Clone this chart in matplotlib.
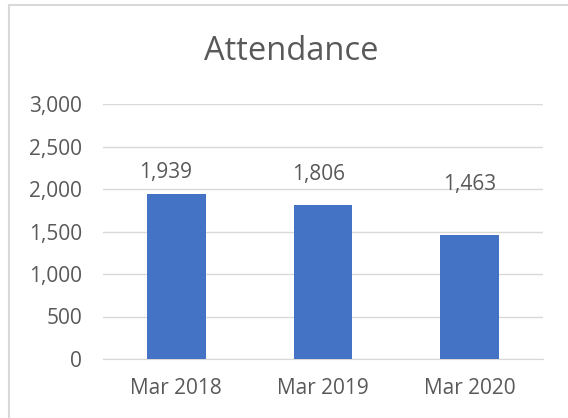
import matplotlib.pyplot as plt
from matplotlib.lines import Line2D

categories = ['Mar 2018', 'Mar 2019', 'Mar 2020']
attendance = [1939, 1806, 1463]
yticks = [0, 500, 1000, 1500, 2000, 2500, 3000]
# data label offsets (points) as they sit in the original chart
label_dx = [-8, -3, 0]
label_dy = [12, 18, 32]

plt.rcParams['font.family'] = ['Open Sans', 'DejaVu Sans']
txt = '#595959'
W, H = 568, 418

fig = plt.figure(figsize=(W / 100, H / 100), dpi=100)
# chart frame: only the top and left edges fall inside the picture
fig.lines.append(Line2D([9 / W, 9 / W], [0, 1 - 5 / H], transform=fig.transFigure,
                        color='#d9d9d9', linewidth=1.5))
fig.lines.append(Line2D([9 / W, 1], [1 - 5 / H, 1 - 5 / H], transform=fig.transFigure,
                        color='#d9d9d9', linewidth=1.5))

ax = fig.add_axes([103 / W, 59 / H, 440 / W, 255 / H])

x = range(len(categories))
ax.bar(x, attendance, width=0.4, color='#4472C4', zorder=3)
for xi, v, dx, dy in zip(x, attendance, label_dx, label_dy):
    ax.annotate(f'{v:,}', (xi, v), xytext=(dx, dy), textcoords='offset points',
                ha='center', va='baseline', fontsize=15, color=txt)

ax.set_xlim(-0.5, 2.5)
ax.set_ylim(0, 3000)
ax.set_yticks(yticks)
ax.set_yticklabels([f'{t:,}' for t in yticks])
ax.set_xticks(list(x))
ax.set_xticklabels(categories)
ax.tick_params(length=0, labelsize=15, labelcolor=txt)
ax.tick_params(axis='y', pad=15)
ax.tick_params(axis='x', pad=14)
ax.grid(axis='y', color='#d9d9d9', linewidth=1, zorder=0)
for s in ['top', 'right', 'left']:
    ax.spines[s].set_visible(False)
ax.spines['bottom'].set_color('#d9d9d9')

fig.text(291 / W, 1 - 60 / H, 'Attendance', ha='center', va='baseline',
         fontsize=23.5, color=txt)

fig.savefig('out.png')
